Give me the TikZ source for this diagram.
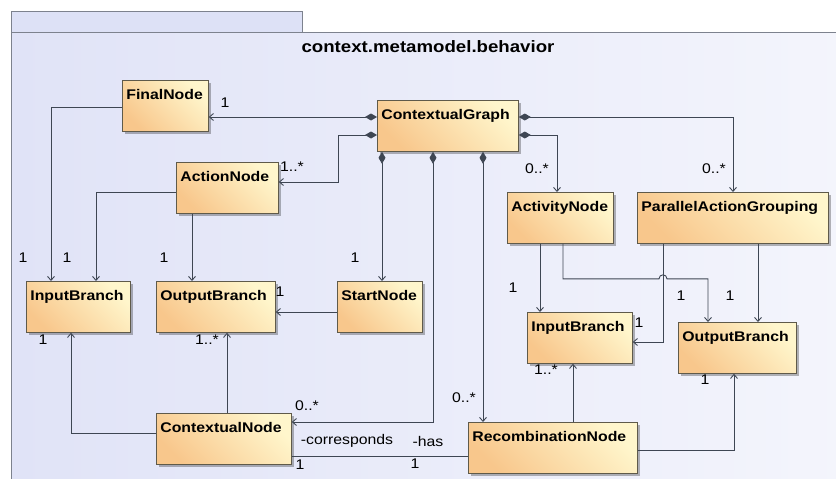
\documentclass[tikz,border=0pt]{standalone}
\usepackage{fontspec}
\setmainfont{Liberation Sans}
\newfontfamily\umlfont[FakeStretch=1.13]{Liberation Sans}
\usetikzlibrary{arrows.meta,shadows,calc}

\definecolor{pkgL}{HTML}{E0E3F7}
\definecolor{pkgR}{HTML}{F4F5FC}
\definecolor{tabfill}{HTML}{DDE1F6}
\definecolor{frameclr}{HTML}{7D828E}
\definecolor{clsline}{HTML}{5F5A4A}
\definecolor{clsO}{HTML}{F8C78C}
\definecolor{clsY}{HTML}{FFF6CC}
\definecolor{lineclr}{HTML}{3E4653}

\begin{document}
\begin{tikzpicture}[x=1pt,y=-1pt,
  cls/.style={draw=clsline, line width=0.8pt, anchor=north west,
    inner xsep=4pt, inner ysep=0pt, text height=19pt, text depth=32pt,
    align=left, font=\umlfont\fontsize{14}{16}\selectfont\bfseries,
    top color=clsY, bottom color=clsO, shading angle=-45,
    drop shadow={shadow xshift=2.5pt, shadow yshift=-2.5pt, fill=black, opacity=0.28}},
  conn/.style={draw=lineclr, line width=0.9pt},
  nav/.style={conn, -{Straight Barb[length=4pt,width=7pt]}},
  comp/.style={conn, {Diamond[length=12pt,width=7pt,fill=lineclr]}-{Straight Barb[length=4pt,width=7pt]}},
  mult/.style={font=\umlfont\fontsize{14}{16}\selectfont, inner sep=0pt, text=black}]

\useasboundingbox (0,0) rectangle (836,479);
\fill[white] (0,0) rectangle (836,479);

% package frame with its tab
\begin{scope}
  \clip (0,0) rectangle (836,479);
  \draw[frameclr, line width=0.9pt, fill=tabfill] (11,11) rectangle (302,32);
  \shade[left color=pkgL, right color=pkgR] (11,32) rectangle (850,490);
  \draw[frameclr, line width=0.9pt] (11,490) -- (11,32) -- (850,32);
\end{scope}
\node[font=\umlfont\fontsize{16.5}{18}\selectfont\bfseries] (title) at (428,47) {context.metamodel.behavior};

% classes
\node[cls, text width=78pt]  (fn)  at (122,80)  {FinalNode};
\node[cls, text width=133pt] (cg)  at (377,100) {ContextualGraph};
\node[cls, text width=94pt]  (an)  at (176,162) {ActionNode};
\node[cls, text width=96pt]  (ibl) at (26,281)  {InputBranch};
\node[cls, text width=111pt] (obl) at (156,281) {OutputBranch};
\node[cls, text width=77pt]  (sn)  at (337,281) {StartNode};
\node[cls, text width=98pt]  (acn) at (507,192) {ActivityNode};
\node[cls, text width=183pt] (pag) at (637,192) {ParallelActionGrouping};
\node[cls, text width=97pt]  (ibr) at (527,312) {InputBranch};
\node[cls, text width=110pt] (obr) at (678,322) {OutputBranch};
\node[cls, text width=127pt] (cn)  at (156,413) {ContextualNode};
\node[cls, text width=161pt] (rn)  at (468,422) {RecombinationNode};

% compositions owned by ContextualGraph
\draw[comp] ([yshift=-17pt]cg.north west) coordinate (a1) -- (a1 -| fn.east);
\draw[comp] ([yshift=-35pt]cg.north west) -- ++(-39pt,0) |- ([yshift=-20pt]an.north east);
\draw[comp] ([xshift=5pt]cg.south west) coordinate (a3) -- (a3 |- sn.north);
\draw[comp] ([xshift=56pt]cg.south west) |- ([yshift=-9pt]cn.north east);
\draw[comp] ([xshift=106pt]cg.south west) coordinate (a5) -- (a5 |- rn.north);
\draw[comp] ([yshift=-35pt]cg.north east) -| ([xshift=50pt]acn.north west);
\draw[comp] ([yshift=-17pt]cg.north east) -| ([xshift=96pt]pag.north west);

% navigable associations
\draw[nav] ([yshift=-27pt]fn.north west) -| ([xshift=25pt]ibl.north west);
\draw[nav] ([yshift=-30pt]an.north west) -| ([xshift=70pt]ibl.north west);
\draw[nav] ([xshift=16pt]an.south west) coordinate (b3) -- (b3 |- obl.north);
\draw[nav] ([yshift=-31pt]sn.north west) coordinate (b4) -- (b4 -| obl.east);
\draw[nav] ([yshift=-20pt]cn.north west) -| ([xshift=45pt]ibl.south west);
\draw[nav] ([xshift=71pt]cn.north west) coordinate (b6) -- (b6 |- obl.south);
\draw[conn] ([yshift=-43pt]cn.north east) coordinate (b7) -- (b7 -| rn.west);
\draw[nav] ([xshift=33pt]acn.south west) coordinate (b8) -- (b8 |- ibr.north);
\draw[nav] ([xshift=56pt]acn.south west) -- ++(0,-35pt) -- ++(96pt,0)
  arc[start angle=180, end angle=0, radius=4pt] -| ([xshift=30pt]obr.north west);
\draw[nav] ([xshift=26pt]pag.south west) |- ([yshift=-30pt]ibr.north east);
\draw[nav] ([xshift=121pt]pag.south west) coordinate (b11) -- (b11 |- obr.north);
\draw[nav] ([xshift=105pt]rn.north west) coordinate (b12) -- (b12 |- ibr.south);
\draw[nav] ([yshift=-28pt]rn.north east) -| ([xshift=56pt]obr.south west);

% multiplicities and role names
\node[mult] (m1)  at (225,103) {1};
\node[mult] (m2)  at (292,167) {1..*};
\node[mult] (m3)  at (355,258) {1};
\node[mult] (m4)  at (23,258)  {1};
\node[mult] (m5)  at (67,258)  {1};
\node[mult] (m6)  at (164,258) {1};
\node[mult] (m7)  at (280,292) {1};
\node[mult] (m8)  at (43,340)  {1};
\node[mult] (m9)  at (207,340) {1..*};
\node[mult] (m10) at (307,406) {0..*};
\node[mult] (m11) at (347,441) {-corresponds};
\node[mult] (m12) at (300,465) {1};
\node[mult] (m13) at (428,441) {-has};
\node[mult] (m14) at (415,464) {1};
\node[mult] (m15) at (464,398) {0..*};
\node[mult] (m16) at (537,169) {0..*};
\node[mult] (m17) at (714,169) {0..*};
\node[mult] (m18) at (513,288) {1};
\node[mult] (m19) at (681,296) {1};
\node[mult] (m20) at (730,296) {1};
\node[mult] (m21) at (639,323) {1};
\node[mult] (m22) at (546,370) {1..*};
\node[mult] (m23) at (705,380) {1};
\end{tikzpicture}
\end{document}
